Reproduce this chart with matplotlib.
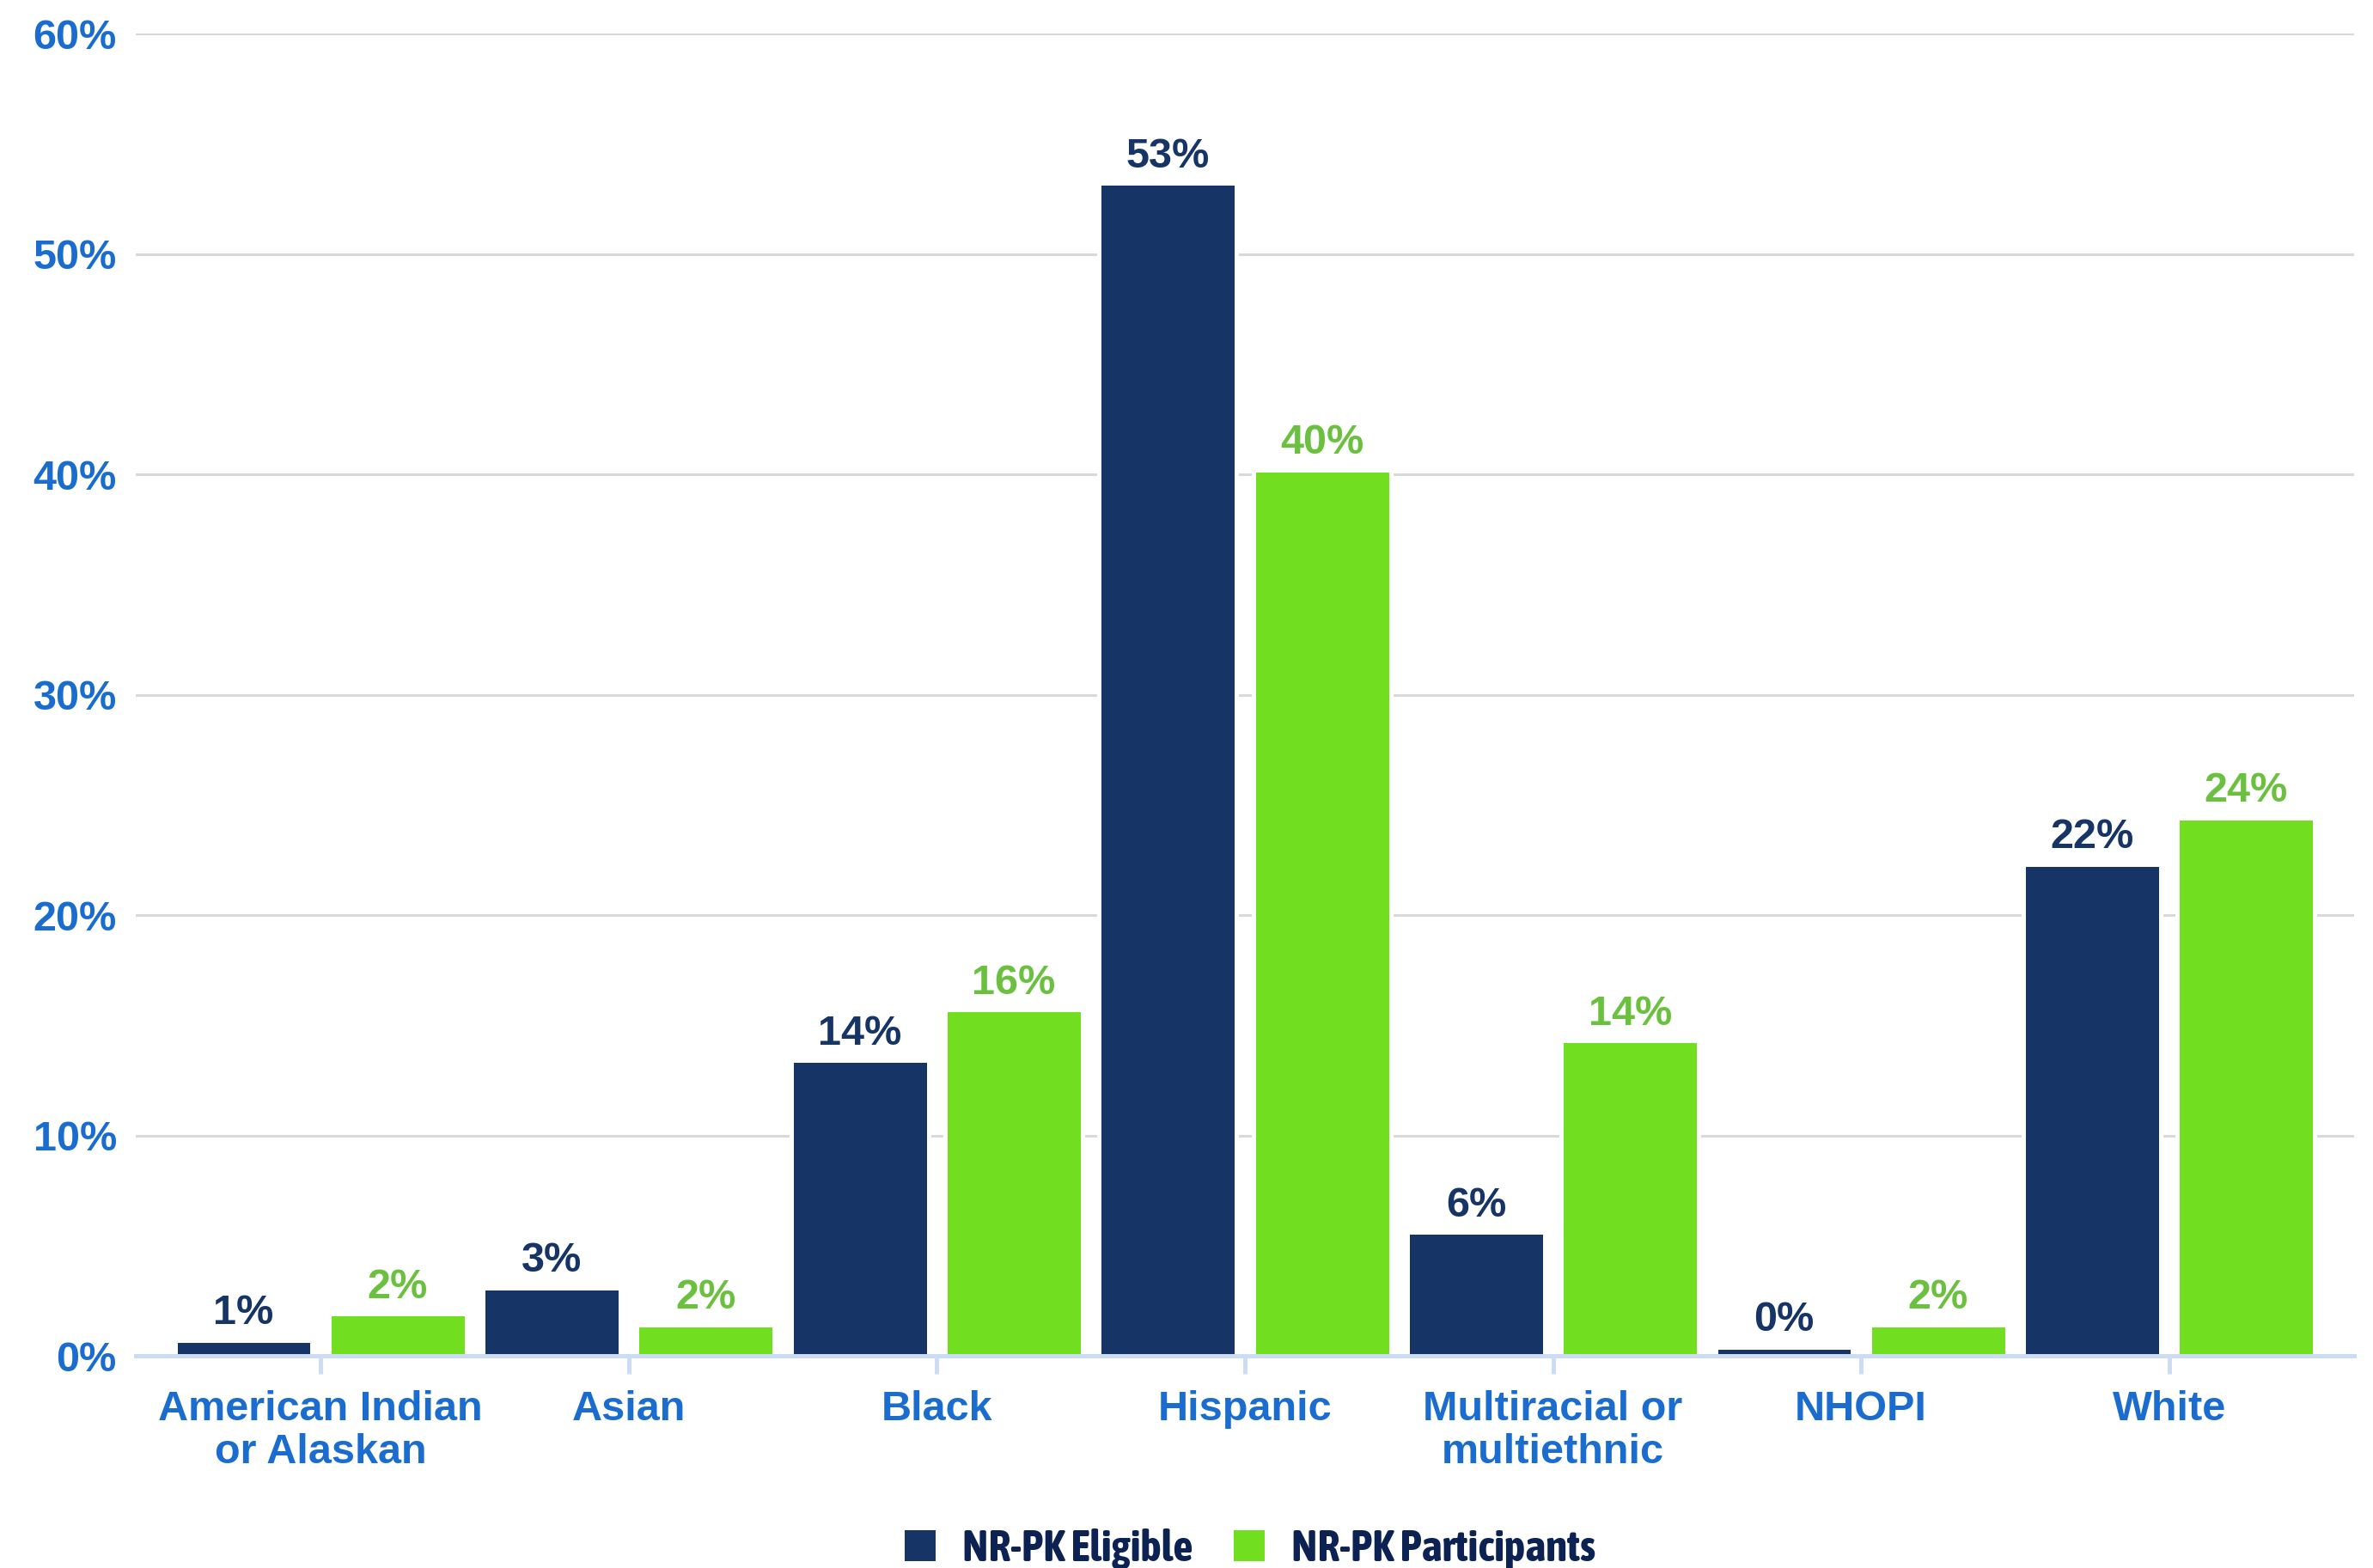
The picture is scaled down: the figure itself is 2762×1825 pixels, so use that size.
import numpy as np
import matplotlib
matplotlib.use('Agg')
import matplotlib.pyplot as plt
from matplotlib.patches import Patch
from matplotlib import font_manager

# data
categories = ['American Indian\nor Alaskan', 'Asian', 'Black', 'Hispanic',
              'Multiracial or\nmultiethnic', 'NHOPI', 'White']
eligible = [0.7, 3.1, 13.4, 53.2, 5.6, 0.4, 22.3]
participants = [1.9, 1.4, 15.7, 40.2, 14.3, 1.4, 24.4]
eligible_labels = ['1%', '3%', '14%', '53%', '6%', '0%', '22%']
participant_labels = ['2%', '2%', '16%', '40%', '14%', '2%', '24%']
series_names = ['NR-PK Eligible', 'NR-PK Participants']
yticks = [0, 10, 20, 30, 40, 50, 60]

navy = '#163466'
green = '#72de20'
green_txt = '#6cc040'
blue_txt = '#1a6dcf'
legend_txt = '#0b2253'

plt.rcParams['font.family'] = ['Liberation Sans', 'DejaVu Sans']
FS = 35
LFS = 37


def wt(v):
    return font_manager.weight_dict.get(v, v) if isinstance(v, str) else v


# legend in the reference uses a bold upright narrow face; take one if installed
narrow = [f.name for f in font_manager.fontManager.ttflist
          if ('narrow' in f.name.lower() or 'condensed' in f.name.lower()
              or f.stretch in ('condensed', 'semi-condensed', 'extra-condensed'))
          and wt(f.weight) >= 600 and f.style == 'normal']
legend_family = sorted(set(narrow))[:1] + ['Liberation Sans', 'DejaVu Sans']

fig = plt.figure(figsize=(27.62, 18.25), dpi=100)
ax = fig.add_axes([0.0572, 0.1353, 0.9348, 0.8433])

x = np.arange(len(categories))
w = 0.446
ax.bar(x - 0.25, eligible, w, color=navy, edgecolor='white', linewidth=3.6, zorder=3)
ax.bar(x + 0.25, participants, w, color=green, edgecolor='white', linewidth=3.6, zorder=3)

for xi, v, lab in zip(x, eligible, eligible_labels):
    ax.annotate(lab, (xi - 0.25, v), xytext=(0, 13.5), textcoords='offset points',
                ha='center', va='baseline', fontsize=FS, fontweight='bold', color=navy)
for xi, v, lab in zip(x, participants, participant_labels):
    ax.annotate(lab, (xi + 0.25, v), xytext=(0, 13.5), textcoords='offset points',
                ha='center', va='baseline', fontsize=FS, fontweight='bold', color=green_txt)

ax.set_xlim(-0.6, 6.6)
ax.set_ylim(0, 60)
ax.set_yticks(yticks)
ax.set_yticklabels([f'{t}%' for t in yticks])
ax.set_xticks(x)
ax.set_xticklabels(categories, linespacing=1.12)

ax.tick_params(axis='y', length=0, pad=16, labelsize=FS, labelcolor=blue_txt)
ax.tick_params(axis='x', length=15, width=3.6, color='#cddcf5', pad=14,
               labelsize=FS, labelcolor=blue_txt)
for lbl in ax.get_xticklabels() + ax.get_yticklabels():
    lbl.set_fontweight('bold')

ax.grid(axis='y', color='#d9d9d9', linewidth=2.2, zorder=0)
ax.set_axisbelow(True)
for s in ['top', 'right', 'left']:
    ax.spines[s].set_visible(False)
ax.spines['bottom'].set_color('#cddcf5')
ax.spines['bottom'].set_linewidth(3.6)
ax.spines['bottom'].set_zorder(4)

handles = [Patch(facecolor=navy), Patch(facecolor=green)]
leg = fig.legend(handles, series_names, loc='center', bbox_to_anchor=(0.5268, 1 - 1803 / 1825),
                 ncol=2, frameon=False, handlelength=0.70, handleheight=0.70,
                 handletextpad=0.6, columnspacing=0.93,
                 prop={'family': legend_family, 'weight': 'bold', 'style': 'normal', 'size': LFS})
for t in leg.get_texts():
    t.set_color(legend_txt)

fig.savefig('out.png', dpi=100)
